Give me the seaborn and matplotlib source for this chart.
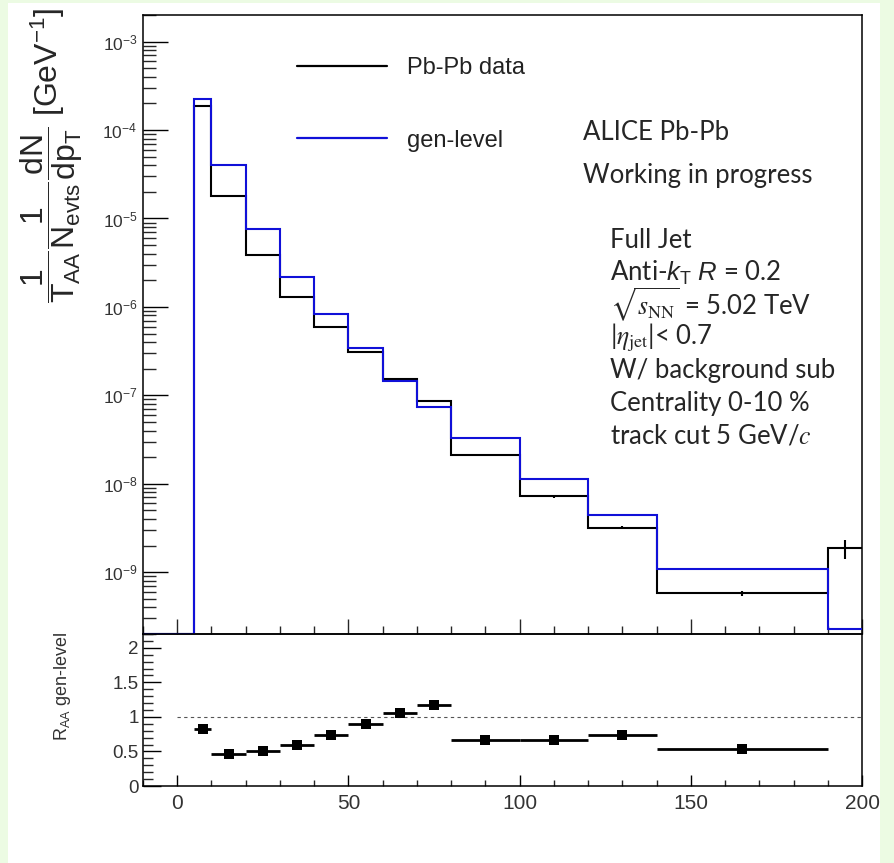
import numpy as np
import matplotlib
matplotlib.use("Agg")
import matplotlib.pyplot as plt
import seaborn as sns
from matplotlib.ticker import LogLocator, MultipleLocator, NullFormatter, FixedLocator
from matplotlib.patches import Rectangle

# ---------------- data ----------------
bin_edges = [-10, 5, 10, 20, 30, 40, 50, 60, 70, 80, 100, 120, 140, 190, 200]
pbpb_data = [0, 1.88e-4, 1.80e-5, 3.87e-6, 1.29e-6, 5.9e-7, 3.08e-7, 1.52e-7,
             8.6e-8, 2.1e-8, 7.2e-9, 3.2e-9, 5.8e-10, 1.87e-9]
pbpb_err = [0, 1e-6, 1e-7, 2e-8, 8e-9, 4e-9, 2e-9, 1.2e-9,
            8e-10, 3e-10, 2.5e-10, 1.5e-10, 4e-11, 4.5e-10]
gen_level = [0, 2.26e-4, 4.05e-5, 7.6e-6, 2.18e-6, 8.3e-7, 3.43e-7, 1.47e-7,
             7.3e-8, 3.27e-8, 1.12e-8, 4.4e-9, 1.1e-9, 2.3e-10]

ratio_x = [7.5, 15, 25, 35, 45, 55, 65, 75, 90, 110, 130, 165]
ratio_xerr = [2.5, 5, 5, 5, 5, 5, 5, 5, 10, 10, 10, 25]
ratio_y = [0.83, 0.46, 0.51, 0.59, 0.74, 0.90, 1.05, 1.17, 0.66, 0.66, 0.74, 0.54]
ratio_yerr = [0.02, 0.01, 0.01, 0.01, 0.01, 0.01, 0.01, 0.02, 0.01, 0.02, 0.02, 0.02]

y_major_ticks = [1e-9, 1e-8, 1e-7, 1e-6, 1e-5, 1e-4, 1e-3]
ratio_ticks = [0, 0.5, 1, 1.5, 2]
ratio_tick_labels = ['0', '0.5', '1', '1.5', '2']

legend_labels = ["Pb-Pb data", "gen-level"]
header_lines = ["ALICE Pb-Pb", "Working in progress"]
info_lines = ["Full Jet", r"Anti-$k_{\rm T}$ $R$ = 0.2", r"$\sqrt{s_{\rm NN}}$ = 5.02 TeV",
              r"|$\eta_{\rm jet}$|< 0.7", "W/ background sub", "Centrality 0-10 %",
              r"track cut 5 GeV/$c$"]

# ---------------- style ----------------
sns.set_theme(style="white")
plt.rcParams['font.family'] = ['Liberation Sans', 'DejaVu Sans']
plt.rcParams['mathtext.fontset'] = 'custom'
plt.rcParams['mathtext.rm'] = 'Liberation Sans'
plt.rcParams['mathtext.it'] = 'Liberation Sans:italic'
plt.rcParams['mathtext.bf'] = 'Liberation Sans:bold'
plt.rcParams['mathtext.sf'] = 'Liberation Sans'
plt.rcParams['axes.edgecolor'] = 'black'
plt.rcParams['axes.linewidth'] = 1.1

W, H = 894, 863
fig = plt.figure(figsize=(W / 100, H / 100), dpi=100)
fig.patch.set_facecolor('#ecfbe3')
fig.patches.append(Rectangle((8 / W, 0), (880 - 8) / W, 1 - 3 / H, transform=fig.transFigure,
                             facecolor='white', edgecolor='none', zorder=-10))

def fx(px):
    return px / W

def fy(py):
    return 1 - py / H

ax1 = fig.add_axes([fx(143), fy(634), fx(862) - fx(143), fy(15) - fy(634)])
ax2 = fig.add_axes([fx(143), fy(786), fx(862) - fx(143), fy(634) - fy(786)], sharex=ax1)
for a in (ax1, ax2):
    a.set_facecolor('none')

ymin, ymax = 2.0e-10, 2.0e-3
ax1.set_yscale('log')
ax1.set_xlim(-10, 200)
ax1.set_ylim(ymin, ymax)

edges = np.array(bin_edges, dtype=float)
black = np.where(np.array(pbpb_data) > 0, pbpb_data, ymin * 1.0001)
blue = np.where(np.array(gen_level) > 0, gen_level, ymin * 1.0001)

ax1.stairs(black, edges, baseline=None, color='black', lw=1.5, zorder=3, label=legend_labels[0])
ax1.stairs(blue, edges, baseline=None, color='#1010d8', lw=1.5, zorder=4, label=legend_labels[1])
centers = 0.5 * (edges[1:] + edges[:-1])
mask = np.array(pbpb_data) > 0
ax1.errorbar(centers[mask], np.array(pbpb_data)[mask], yerr=np.array(pbpb_err)[mask],
             fmt='none', ecolor='black', elinewidth=1.5, capsize=0, zorder=3)

# top panel ticks
ax1.yaxis.set_major_locator(FixedLocator(y_major_ticks))
ax1.yaxis.set_minor_locator(LogLocator(base=10, subs=np.arange(2, 10), numticks=20))
ax1.yaxis.set_minor_formatter(NullFormatter())
ax1.xaxis.set_major_locator(MultipleLocator(50))
ax1.xaxis.set_minor_locator(MultipleLocator(10))
ax1.tick_params(axis='y', which='major', direction='in', length=18, width=1.0, labelsize=12.5,
                left=True, right=False, pad=4, colors='black')
ax1.tick_params(axis='y', which='minor', direction='in', length=9, width=1.0, left=True, right=False)
ax1.tick_params(axis='x', which='major', direction='in', length=11, width=1.0, bottom=True,
                top=False, labelbottom=False)
ax1.tick_params(axis='x', which='minor', direction='in', length=6, width=1.0, bottom=True, top=False)
for lab in ax1.get_yticklabels():
    lab.set_color('#333333')

leg = ax1.legend(loc='upper left', bbox_to_anchor=(fx(297), fy(57)), bbox_transform=fig.transFigure,
                 frameon=False, fontsize=17, handlelength=3.8, handletextpad=0.85,
                 labelspacing=2.15, borderpad=0, borderaxespad=0)
for line in leg.get_lines():
    line.set_linewidth(1.6)
for t in leg.get_texts():
    t.set_color('#222222')

# info text
for i, t in enumerate(header_lines):
    fig.text(fx(583), fy(133 + i * 43), t, fontsize=18.5, family=['Lato', 'DejaVu Sans'],
             va='center', ha='left')
for i, t in enumerate(info_lines):
    fig.text(fx(610), fy(240 + i * 32.7), t, fontsize=18.5, family=['Lato', 'DejaVu Sans'],
             va='center', ha='left', math_fontfamily='stix' if i in (2, 3, 6) else 'custom')

# y label top
fig.text(fx(52), fy(155),
         r"$\dfrac{\mathrm{1}}{\mathrm{T_{AA}}}\dfrac{\mathrm{1}}{\mathrm{N_{evts}}}\dfrac{\mathrm{dN}}{\mathrm{dp_{T}}}$ [GeV$^{\mathrm{-1}}$]",
         rotation=90, fontsize=23, ha='center', va='center')

# ---------------- ratio panel ----------------
ax2.set_ylim(0, 2.2)
ax2.plot([0, 200], [1, 1], ls=(0, (3, 3)), color='#555555', lw=0.8, zorder=1)
ax2.errorbar(ratio_x, ratio_y, xerr=ratio_xerr, yerr=ratio_yerr, fmt='none', ecolor='black',
             elinewidth=2.0, capsize=0, zorder=2)
sns.scatterplot(x=ratio_x, y=ratio_y, marker='s', s=55, color='black', edgecolor='black',
                linewidth=0, ax=ax2, zorder=3)
ax2.xaxis.set_major_locator(MultipleLocator(50))
ax2.xaxis.set_minor_locator(MultipleLocator(10))
ax2.yaxis.set_major_locator(FixedLocator(ratio_ticks))
ax2.yaxis.set_minor_locator(MultipleLocator(0.1))
ax2.set_yticklabels(ratio_tick_labels)
ax2.tick_params(axis='y', which='major', direction='in', length=13, width=1.0, labelsize=13.5,
                left=True, right=False, pad=3, colors='black')
ax2.tick_params(axis='y', which='minor', direction='in', length=7, width=1.0, left=True, right=False)
ax2.tick_params(axis='x', which='major', direction='in', length=8, width=1.0, labelsize=15,
                bottom=True, top=False, labelbottom=True, pad=6, colors='black')
ax2.tick_params(axis='x', which='minor', direction='in', length=4, width=1.0, bottom=True, top=False)
for lab in ax2.get_yticklabels() + ax2.get_xticklabels():
    lab.set_color('#333333')
fig.text(fx(63), fy(686), r"R$_{\mathrm{AA}}$ gen-level", rotation=90, fontsize=13,
         ha='center', va='center', color='#333333')

fig.savefig("out.png", dpi=100, facecolor=fig.get_facecolor())
